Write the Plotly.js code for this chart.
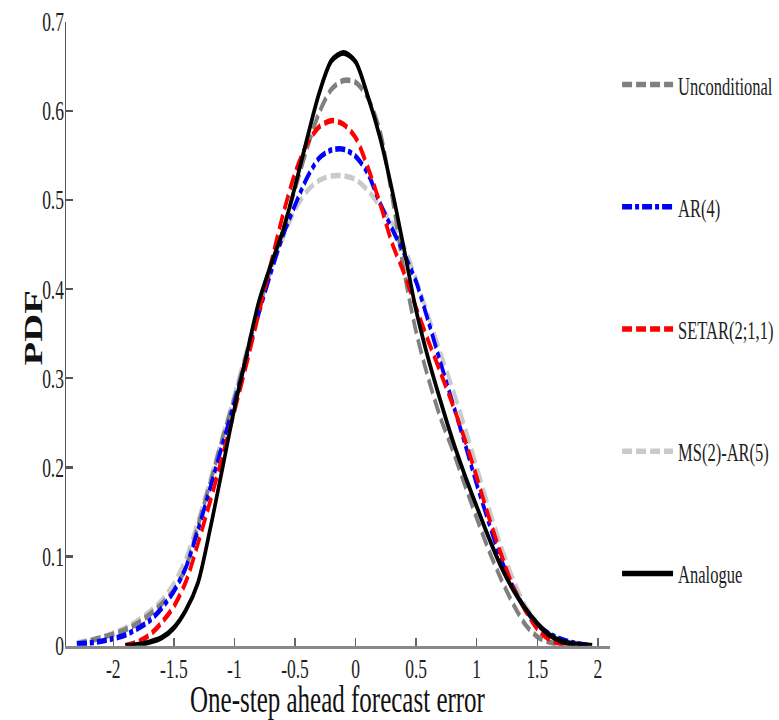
<!DOCTYPE html>
<html>
<head>
<meta charset="utf-8">
<script src="https://cdn.plot.ly/plotly-3.0.1.min.js"></script>
<style>
  html, body { margin: 0; padding: 0; background: #fff; overflow: hidden; }
  #wrap { width: 779px; height: 720px; overflow: hidden; }
  #chart { width: 779px; height: 465px; transform: scaleY(1.5484); transform-origin: 0 0; }
</style>
</head>
<body>
<div id="wrap"><div id="chart"></div></div>
<script>
// ---- data ----
const seriesNames = ["Unconditional", "AR(4)", "SETAR(2;1,1)", "MS(2)-AR(5)", "Analogue"];

const uncX = [-2.3,-2.2,-2.1,-2.0,-1.9,-1.8,-1.7,-1.6,-1.5,-1.4,-1.3,-1.2,-1.1,-1.0,-0.9,-0.8,-0.7,-0.6,-0.5,-0.4,-0.3,-0.2,-0.1,0.0,0.1,0.2,0.3,0.4,0.5,0.6,0.7,0.8,0.9,1.0,1.1,1.2,1.3,1.4,1.5,1.6,1.7,1.8];
const uncY = [0.002,0.005,0.009,0.013,0.018,0.025,0.035,0.047,0.062,0.088,0.135,0.183,0.232,0.278,0.327,0.378,0.423,0.466,0.512,0.558,0.598,0.624,0.634,0.632,0.615,0.578,0.505,0.420,0.352,0.300,0.256,0.220,0.181,0.143,0.107,0.075,0.047,0.024,0.010,0.004,0.001,0.000];

const arX = [-2.3,-2.2,-2.1,-2.0,-1.9,-1.8,-1.7,-1.6,-1.5,-1.4,-1.3,-1.2,-1.1,-1.0,-0.9,-0.8,-0.7,-0.6,-0.5,-0.4,-0.3,-0.2,-0.1,0.0,0.1,0.2,0.3,0.4,0.5,0.6,0.7,0.8,0.9,1.0,1.1,1.2,1.3,1.4,1.5,1.6,1.7,1.8,1.95];
const arY = [0.002,0.003,0.005,0.008,0.012,0.019,0.028,0.042,0.061,0.088,0.130,0.177,0.225,0.273,0.323,0.372,0.418,0.460,0.494,0.525,0.547,0.556,0.557,0.549,0.530,0.497,0.468,0.440,0.408,0.364,0.318,0.273,0.228,0.181,0.138,0.097,0.066,0.041,0.024,0.013,0.007,0.003,0.000];

const setarX = [-1.9,-1.8,-1.7,-1.6,-1.5,-1.4,-1.3,-1.2,-1.1,-1.0,-0.9,-0.8,-0.7,-0.6,-0.5,-0.4,-0.3,-0.2,-0.1,0.0,0.1,0.2,0.3,0.4,0.5,0.6,0.7,0.8,0.9,1.0,1.1,1.2,1.3,1.4,1.5,1.6,1.7,1.75];
const setarY = [0.000,0.004,0.012,0.026,0.044,0.072,0.115,0.162,0.212,0.263,0.316,0.372,0.428,0.483,0.530,0.563,0.582,0.589,0.585,0.570,0.537,0.497,0.452,0.418,0.379,0.342,0.307,0.271,0.232,0.189,0.144,0.103,0.066,0.040,0.019,0.007,0.002,0.000];

const msX = [-2.3,-2.2,-2.1,-2.0,-1.9,-1.8,-1.7,-1.6,-1.5,-1.4,-1.3,-1.2,-1.1,-1.0,-0.9,-0.8,-0.7,-0.6,-0.5,-0.4,-0.3,-0.2,-0.1,0.0,0.1,0.2,0.3,0.4,0.5,0.6,0.7,0.8,0.9,1.0,1.1,1.2,1.3,1.4,1.5,1.6,1.7,1.8,1.96];
const msY = [0.003,0.006,0.009,0.014,0.020,0.028,0.038,0.051,0.070,0.098,0.140,0.186,0.234,0.281,0.331,0.378,0.420,0.457,0.489,0.510,0.522,0.527,0.527,0.523,0.511,0.493,0.474,0.448,0.411,0.370,0.329,0.289,0.246,0.201,0.155,0.112,0.075,0.045,0.025,0.013,0.006,0.003,0.000];

const anaX = [-1.9,-1.8,-1.7,-1.6,-1.5,-1.4,-1.3,-1.2,-1.1,-1.0,-0.9,-0.8,-0.7,-0.6,-0.5,-0.4,-0.3,-0.2,-0.1,0.0,0.1,0.2,0.3,0.4,0.5,0.6,0.7,0.8,0.9,1.0,1.1,1.2,1.3,1.4,1.5,1.6,1.7,1.8,1.95];
const anaY = [0.000,0.001,0.004,0.009,0.020,0.040,0.071,0.131,0.198,0.266,0.326,0.385,0.427,0.465,0.515,0.569,0.620,0.656,0.665,0.655,0.617,0.571,0.512,0.445,0.376,0.322,0.275,0.231,0.192,0.156,0.121,0.089,0.063,0.042,0.025,0.012,0.005,0.002,0.000];

const xTickVals = [-2,-1.5,-1,-0.5,0,0.5,1,1.5,2];
const xTickText = ["-2","-1.5","-1","-0.5","0","0.5","1","1.5","2"];
const yTickVals = [0,0.1,0.2,0.3,0.4,0.5,0.6,0.7];
const yTickText = ["0","0.1","0.2","0.3","0.4","0.5","0.6","0.7"];
const xTitle = "One-step ahead forecast error";
const yTitle = "PDF";

const FONT = "Liberation Serif, Times New Roman, serif";

function tr(x, y, name, color, dash, rank, width) {
  return {
    x: x, y: y, name: name, type: "scatter", mode: "lines",
    line: { color: color, width: width, dash: dash, shape: "spline", smoothing: 0.8 },
    legendgroup: name, legendrank: rank, hoverinfo: "skip"
  };
}

const data = [
  tr(msX, msY, seriesNames[3], "#cacaca", "10px,4px", 4, 3.6),
  tr(uncX, uncY, seriesNames[0], "#808080", "10px,4px", 1, 3.6),
  tr(arX, arY, seriesNames[1], "#0000ff", "10px,3px,4px,3px", 2, 3.6),
  tr(setarX, setarY, seriesNames[2], "#ff0000", "10px,4px", 3, 3.6),
  tr(anaX, anaY, seriesNames[4], "#000000", "solid", 5, 3.6)
];

const layout = {
  width: 779, height: 465, autosize: false,
  margin: { l: 66, r: 169, t: 14, b: 48, autoexpand: false },
  paper_bgcolor: "#fff", plot_bgcolor: "#fff",
  font: { family: FONT, color: "#222", size: 17.5 },
  showlegend: true,
  legend: {
    x: 1.013, xanchor: "left", y: 0.942, yanchor: "top",
    traceorder: "grouped", tracegroupgap: 54.5,
    itemwidth: 51,
    font: { family: FONT, size: 16.5, color: "#222" },
    bgcolor: "rgba(0,0,0,0)"
  },
  xaxis: {
    range: [-2.39, 2.1], showgrid: false, zeroline: false,
    showline: true, linecolor: "#888", linewidth: 2,
    ticks: "inside", ticklen: 5, tickwidth: 1.5, tickcolor: "#666",
    tickvals: xTickVals, ticktext: xTickText, ticklabelstandoff: -2,
    tickfont: { family: FONT, size: 17.5, color: "#222" },
    automargin: false
  },
  yaxis: {
    range: [0, 0.7], showgrid: false, zeroline: false,
    showline: true, linecolor: "#555", linewidth: 1.5,
    ticks: "inside", ticklen: 7, tickwidth: 1.5, tickcolor: "#555",
    tickvals: yTickVals, ticktext: yTickText, ticklabelstandoff: -3,
    tickfont: { family: FONT, size: 17.5, color: "#222" },
    automargin: false
  },
  annotations: [{
    text: "<b>" + yTitle + "</b>", xref: "paper", yref: "paper",
    x: -0.0597, y: 0.51, xanchor: "center", yanchor: "middle",
    textangle: -90, showarrow: false,
    font: { family: FONT, size: 25, color: "#111" }
  }, {
    text: xTitle, xref: "paper", yref: "paper",
    x: 0.5, y: 0, yshift: -34, xanchor: "center", yanchor: "middle",
    showarrow: false,
    font: { family: FONT, size: 25, color: "#111" }
  }]
};

Plotly.newPlot("chart", data, layout, { staticPlot: true, displayModeBar: false });
</script>
</body>
</html>
